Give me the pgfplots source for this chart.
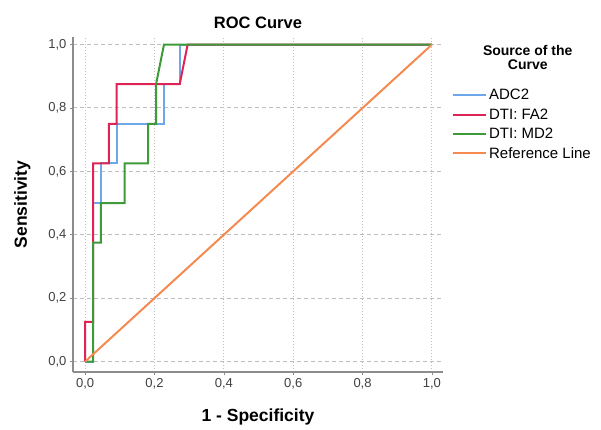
\documentclass[border=0pt]{standalone}
\usepackage{fontspec}
\setmainfont{Liberation Sans}
\usepackage{pgfplots}
\pgfplotsset{compat=1.18}
\definecolor{adcblue}{RGB}{110,168,235}
\definecolor{fared}{RGB}{222,36,84}
\definecolor{mdgreen}{RGB}{62,154,58}
\definecolor{refline}{RGB}{245,138,80}
\definecolor{axisgray}{RGB}{140,140,140}
\definecolor{gridgray}{RGB}{190,190,190}

\begin{document}
\begin{tikzpicture}[x=1pt,y=1pt]
\useasboundingbox (0,0) rectangle (601,430);
\begin{axis}[
  at={(73pt,58pt)}, anchor=south west,
  scale only axis,
  width=370pt, height=335pt,
  xmin=-0.035, xmax=1.032,
  ymin=-0.033, ymax=1.024,
  axis x line*=bottom, axis y line*=left,
  axis line style={color=axisgray, line width=1.1pt, -},
  xtick={0,0.2,...,1.0}, ytick={0,0.2,...,1.0},
  tick style={color=axisgray, line width=0.6pt},
  major tick length=3pt,
  tick align=outside,
  /pgf/number format/.cd, use comma, fixed, fixed zerofill, precision=1, assume math mode=true,
  /pgfplots/.cd,
  ticklabel style={font=\fontsize{13}{13}\selectfont, color=black!75},
  xmajorgrids, ymajorgrids,
  x grid style={color=gridgray, line width=1pt, dotted},
  y grid style={color=gridgray, line width=1pt, dash pattern=on 4pt off 3pt},
  xlabel={\textbf{1 - Specificity}},
  ylabel={\textbf{Sensitivity}},
  label style={font=\fontsize{17.5}{17.5}\selectfont},
  xlabel style={yshift=-13pt},
  ylabel style={yshift=11pt},
  legend style={at={(1.024,0.85)}, anchor=north west, draw=none, fill=none,
    inner sep=0pt, row sep=3.3pt, font=\fontsize{15}{15}\selectfont,
    cells={anchor=west}},
  legend image code/.code={\draw[#1] (0pt,0pt) -- (33pt,0pt);},
  clip=false,
]
\addplot[color=adcblue, line width=2pt] coordinates {
  (0,0) (0.0227,0) (0.0227,0.5) (0.0455,0.5) (0.0455,0.625) (0.0909,0.625)
  (0.0909,0.75) (0.2273,0.75) (0.2273,0.875) (0.2727,0.875) (0.2727,1) (1,1)
};
\addlegendentry{ADC2}
\addplot[color=fared, line width=2pt] coordinates {
  (0,0) (0,0.125) (0.0227,0.125) (0.0227,0.625) (0.0682,0.625) (0.0682,0.75)
  (0.0909,0.75) (0.0909,0.875) (0.2727,0.875) (0.2955,1) (1,1)
};
\addlegendentry{DTI: FA2}
\addplot[color=mdgreen, line width=2pt] coordinates {
  (0,0) (0.0227,0) (0.0227,0.375) (0.0455,0.375) (0.0455,0.5) (0.1136,0.5)
  (0.1136,0.625) (0.1818,0.625) (0.1818,0.75) (0.2045,0.75) (0.2045,0.875)
  (0.2273,1) (1,1)
};
\addlegendentry{DTI: MD2}
\addplot[color=refline, line width=2pt] coordinates {(0,0) (1,1)};
\addlegendentry{Reference Line}
\node[font=\bfseries\fontsize{16.5}{16.5}\selectfont, anchor=south] at (rel axis cs:0.5,1) [yshift=5pt] {ROC Curve};
\node[font=\bfseries\fontsize{14}{13.5}\selectfont, align=center, anchor=north] at (rel axis cs:1.229,0.985) {Source of the\\Curve};
\end{axis}
\end{tikzpicture}
\end{document}
